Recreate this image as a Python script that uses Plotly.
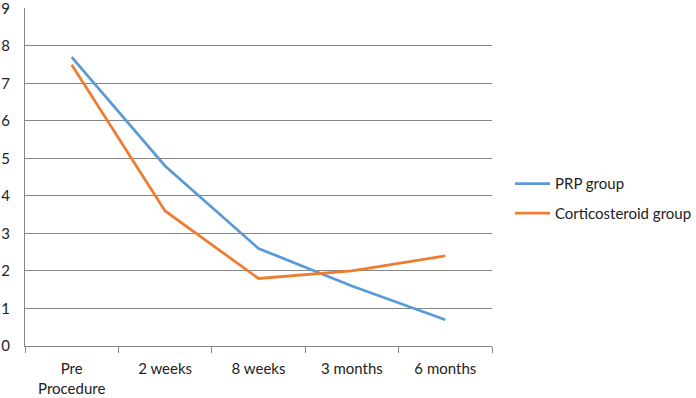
import plotly.graph_objects as go

categories = ["Pre<br>Procedure", "2 weeks", "8 weeks", "3 months", "6 months"]
prp_values = [7.7, 4.8, 2.6, 1.6, 0.7]
cortico_values = [7.5, 3.6, 1.8, 2.0, 2.4]
y_ticks = [0, 1, 2, 3, 4, 5, 6, 7, 8, 9]

FONT = "Lato"
TXT = "#222222"
GRID = "#868686"
fig = go.Figure()
fig.add_trace(go.Scatter(x=categories, y=prp_values, mode="lines", name="PRP group",
                         legendgroup="a",
                         line=dict(color="#5B9BD5", width=2.75)))
fig.add_trace(go.Scatter(x=categories, y=cortico_values, mode="lines", name="Corticosteroid group",
                         legendgroup="b",
                         line=dict(color="#ED7D31", width=2.75)))

fig.update_layout(
    width=696, height=398,
    margin=dict(l=25, r=204, t=8, b=52, autoexpand=False),
    paper_bgcolor="white", plot_bgcolor="white",
    font=dict(family=FONT, size=15, color=TXT),
    showlegend=True,
    legend=dict(x=1.0385, y=0.437, xanchor="left", yanchor="middle",
                font=dict(family=FONT, size=15, color=TXT),
                tracegroupgap=7, itemwidth=35),
    xaxis=dict(type="category", tickson="boundaries", ticks="outside", ticklen=6,
               tickcolor=GRID, showline=True, linecolor=GRID, linewidth=1,
               showgrid=False, automargin=False, ticklabelstandoff=9,
               tickfont=dict(family=FONT, size=15, color=TXT),
               range=[-0.5, 4.5]),
    yaxis=dict(range=[0, 9.01], tickvals=y_ticks, showgrid=True, gridcolor=GRID,
               gridwidth=1, showline=True, linecolor=GRID, linewidth=1,
               zeroline=False, ticks="", automargin=False, ticklabelstandoff=11,
               ticklabeloverflow="allow",
               tickfont=dict(family=FONT, size=15, color=TXT)),
)
fig.write_html("out.html", config={"displayModeBar": False},
               post_script="document.body.style.margin='0';document.body.style.padding='0';")
